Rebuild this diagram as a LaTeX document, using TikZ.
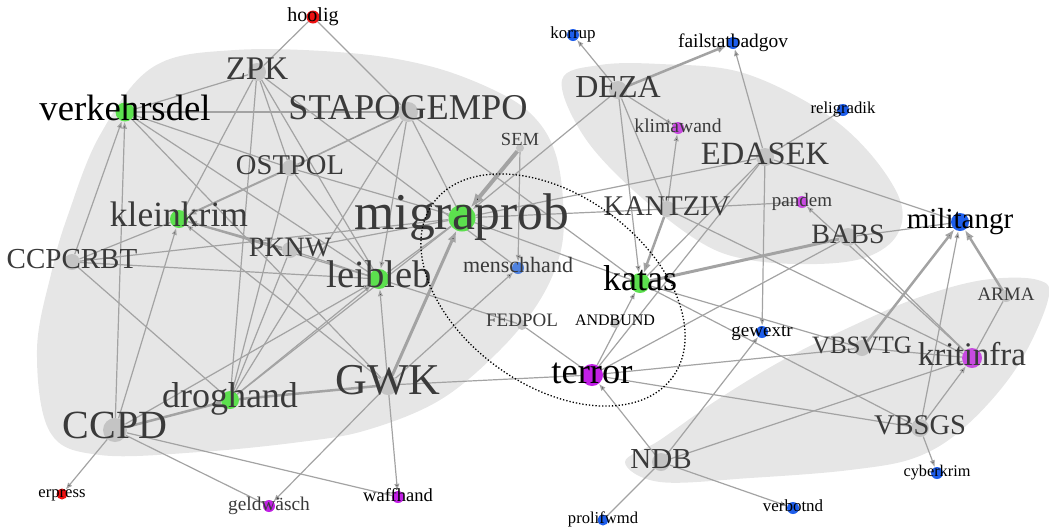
\documentclass[tikz,border=0pt]{standalone}
\usepackage{fontspec}
\setmainfont{Liberation Serif}
\usetikzlibrary{arrows.meta}
\definecolor{hullgray}{HTML}{E6E6E6}
\definecolor{edgegray}{HTML}{A3A3A3}
\definecolor{dotgray}{HTML}{C4C4C4}
\definecolor{dotgreen}{HTML}{5CE04E}
\definecolor{dotblue}{HTML}{1E5EEB}
\definecolor{dotlblue}{HTML}{4F82E0}
\definecolor{dotpurple}{HTML}{C84BE0}
\definecolor{dotmagenta}{HTML}{C21FE6}
\definecolor{dotred}{HTML}{EE1111}
\definecolor{txtgray}{HTML}{3A3A3A}
\pgfdeclarelayer{hulls}
\pgfdeclarelayer{edges}
\pgfsetlayers{hulls,edges,main}
\newcommand\fsz[1]{\fontsize{#1}{#1}\selectfont}
\tikzset{dot/.style = {circle, inner sep=0pt, minimum size=#1}}
\tikzset{lbl/.style = {anchor=base, yshift={-0.22*#1pt}, inner sep=0pt, text=txtgray, font=\fsz{#1}}}
\tikzset{lblk/.style = {lbl=#1, text=black}}
\tikzset{link/.style = {draw=edgegray, line width=#1}, link/.default=1.2pt}

\begin{document}
\begin{tikzpicture}[x=1pt, y=-1pt, >={Latex[length={4pt 2.5}, width={3pt 2}]}]
  \useasboundingbox (0,0) rectangle (1049,531);

  % actors
  \node [dot=13, fill=dotred] (hoolig) at (313,17) {};
  \node [lblk=20] (hoolig-t) at (hoolig) {hoolig};
  \node [dot=12, fill=dotblue] (korrup) at (573,35) {};
  \node [lblk=17] (korrup-t) at (korrup) {korrup};
  \node [dot=12, fill=dotblue] (failstatbadgov) at (733,43) {};
  \node [lblk=19.4] (failstatbadgov-t) at (failstatbadgov) {failstatbadgov};
  \node [dot=12, fill=dotblue] (religradik) at (843,110) {};
  \node [lblk=16.7] (religradik-t) at (religradik) {religradik};
  \node [dot=18, fill=dotgray] (ZPK) at (257,72) {};
  \node [lbl=33] (ZPK-t) at (ZPK) {ZPK};
  \node [dot=19, fill=dotgreen] (verkehrsdel) at (125,112) {};
  \node [lblk=36.7] (verkehrsdel-t) at (verkehrsdel) {verkehrsdel};
  \node [dot=20, fill=dotgray] (STAPOGEMPO) at (408,112) {};
  \node [lbl=36.3] (STAPOGEMPO-t) at (STAPOGEMPO) {STAPOGEMPO};
  \node [dot=18, fill=dotgray] (DEZA) at (618,90) {};
  \node [lbl=32] (DEZA-t) at (DEZA) {DEZA};
  \node [dot=12, fill=dotpurple] (klimawand) at (678,128) {};
  \node [lbl=19.6] (klimawand-t) at (klimawand) {klimawand};
  \node [dot=8, fill=dotgray] (SEM) at (520,148) {};
  \node [lbl=18.5] (SEM-t) at (520,141) {SEM};
  \node [dot=18, fill=dotgray] (EDASEK) at (765,157) {};
  \node [lbl=32.5] (EDASEK-t) at (EDASEK) {EDASEK};
  \node [dot=16, fill=dotgray] (OSTPOL) at (290,168) {};
  \node [lbl=28.6] (OSTPOL-t) at (OSTPOL) {OSTPOL};
  \node [dot=27, fill=dotgreen] (migraprob) at (462,218) {};
  \node [lbl=51.6] (migraprob-t) at (migraprob) {migraprob};
  \node [dot=16, fill=dotgray] (KANTZIV) at (667,209) {};
  \node [lbl=28.5] (KANTZIV-t) at (KANTZIV) {KANTZIV};
  \node [dot=12, fill=dotpurple] (pandem) at (802,202) {};
  \node [lbl=19] (pandem-t) at (pandem) {pandem};
  \node [dot=18, fill=dotblue] (militangr) at (960,222) {};
  \node [lblk=29] (militangr-t) at (militangr) {militangr};
  \node [dot=18, fill=dotgray] (BABS) at (848,237) {};
  \node [lbl=28] (BABS-t) at (BABS) {BABS};
  \node [dot=18, fill=dotgreen] (kleinkrim) at (179,219) {};
  \node [lbl=35.5] (kleinkrim-t) at (kleinkrim) {kleinkrim};
  \node [dot=16, fill=dotgray] (PKNW) at (290,250) {};
  \node [lbl=28] (PKNW-t) at (PKNW) {PKNW};
  \node [dot=16, fill=dotgray] (CCPCRBT) at (72,262) {};
  \node [lbl=29] (CCPCRBT-t) at (CCPCRBT) {CCPCRBT};
  \node [dot=12, fill=dotlblue] (menschhand) at (518,268) {};
  \node [lbl=22] (menschhand-t) at (menschhand) {menschhand};
  \node [dot=20, fill=dotgreen] (leibleb) at (379,279) {};
  \node [lbl=38.6] (leibleb-t) at (leibleb) {leibleb};
  \node [dot=20, fill=dotgreen] (katas) at (640,283) {};
  \node [lblk=36] (katas-t) at (katas) {katas};
  \node [dot=12, fill=dotgray] (ARMA) at (1006,296) {};
  \node [lbl=19] (ARMA-t) at (ARMA) {ARMA};
  \node [dot=10, fill=dotgray] (FEDPOL) at (522,325) {};
  \node [lbl=19] (FEDPOL-t) at (522,322) {FEDPOL};
  \node [dot=10, fill=dotgray] (ANDBUND) at (615,323) {};
  \node [lblk=16] (ANDBUND-t) at (615,322) {ANDBUND};
  \node [dot=12, fill=dotblue] (gewextr) at (762,332) {};
  \node [lblk=19] (gewextr-t) at (gewextr) {gewextr};
  \node [dot=16, fill=dotgray] (VBSVTG) at (862,348) {};
  \node [lbl=25] (VBSVTG-t) at (VBSVTG) {VBSVTG};
  \node [dot=20, fill=dotpurple] (kritinfra) at (972,358) {};
  \node [lbl=33] (kritinfra-t) at (kritinfra) {kritinfra};
  \node [dot=20, fill=dotgray] (GWK) at (388,385) {};
  \node [lbl=44] (GWK-t) at (GWK) {GWK};
  \node [dot=22, fill=dotmagenta] (terror) at (592,375) {};
  \node [lblk=36.5] (terror-t) at (terror) {terror};
  \node [dot=18, fill=dotgreen] (droghand) at (230,400) {};
  \node [lbl=36] (droghand-t) at (droghand) {droghand};
  \node [dot=24, fill=dotgray] (CCPD) at (115,430) {};
  \node [lbl=40] (CCPD-t) at (CCPD) {CCPD};
  \node [dot=18, fill=dotgray] (VBSGS) at (920,428) {};
  \node [lbl=28.5] (VBSGS-t) at (VBSGS) {VBSGS};
  \node [dot=18, fill=dotgray] (NDB) at (661,462) {};
  \node [lbl=29] (NDB-t) at (NDB) {NDB};
  \node [dot=12, fill=dotblue] (cyberkrim) at (937,473) {};
  \node [lblk=16.3] (cyberkrim-t) at (cyberkrim) {cyberkrim};
  \node [dot=11, fill=dotred] (erpress) at (62,494) {};
  \node [lblk=16.6] (erpress-t) at (erpress) {erpress};
  \node [dot=12, fill=dotmagenta] (geldwasch) at (269,506) {};
  \node [lbl=19.4] (geldwasch-t) at (geldwasch) {geldwäsch};
  \node [dot=12, fill=dotmagenta] (waffhand) at (398,497) {};
  \node [lblk=18.5] (waffhand-t) at (waffhand) {waffhand};
  \node [dot=11, fill=dotblue] (prolifwmd) at (603,520) {};
  \node [lblk=16.6] (prolifwmd-t) at (prolifwmd) {prolifwmd};
  \node [dot=12, fill=dotblue] (verbotnd) at (793,508) {};
  \node [lblk=17] (verbotnd-t) at (verbotnd) {verbotnd};

  % groups
  \begin{pgfonlayer}{hulls}
    \fill[hullgray] plot[smooth cycle, tension=0.6] coordinates {(350,53) (433,67) (500,93) (535,118) (555,152) (563,200) (561,250) (540,300) (500,350) (440,400) (367,430) (300,442) (200,452) (100,455) (50,432) (37,350) (52,270) (68,215) (100,135) (153,67) (235,50)};
    \fill[hullgray] plot[smooth cycle, tension=0.6] coordinates {(562,80) (600,65) (660,64) (740,72) (817,108) (867,150) (900,200) (897,235) (867,257) (817,264) (750,260) (700,242) (633,190) (583,135)};
    \fill[hullgray] plot[smooth cycle, tension=0.6] coordinates {(625,462) (660,440) (717,400) (783,360) (850,327) (917,298) (983,280) (1038,280) (1048,300) (1017,367) (967,425) (917,457) (850,470) (750,478) (660,482)};
  \end{pgfonlayer}

  % links
  \begin{pgfonlayer}{edges}
    \path[link] (hoolig) edge (ZPK) edge (STAPOGEMPO);
    \path[link] (ZPK) edge (verkehrsdel) edge (kleinkrim) edge (droghand) edge (OSTPOL) edge (leibleb) edge (menschhand);
    \path[link] (verkehrsdel) edge (OSTPOL) edge (leibleb) edge (GWK);
    \path[link=1.6pt] (verkehrsdel) edge (STAPOGEMPO);
    \path[link=1.6pt] (STAPOGEMPO) edge (OSTPOL);
    \path[link] (CCPCRBT) edge (kleinkrim) edge (migraprob) edge (leibleb) edge (droghand);
    \path[link] (STAPOGEMPO) edge (migraprob) edge (katas) edge (droghand);
    \path[link] (OSTPOL) edge (droghand) edge (leibleb) edge (migraprob);
    \path[link] (PKNW) edge (leibleb) edge (droghand) edge (migraprob);
    \path[link] (kleinkrim) edge (leibleb);
    \path[link] (leibleb) edge (migraprob) edge (FEDPOL);
    \path[link] (droghand) edge (migraprob);
    \path[link] (CCPD) edge (geldwasch) edge (waffhand);
    \path[link] (GWK) edge (terror);
    \path[link] (FEDPOL) edge (terror);
    \path[link] (migraprob) edge (KANTZIV) edge (katas) edge (EDASEK);
    \path[link] (DEZA) edge (KANTZIV);
    \path[link] (KANTZIV) edge (pandem) edge (kritinfra);
    \path[link] (EDASEK) edge (religradik) edge (militangr) edge (katas) edge (terror);
    \path[link] (BABS) edge (militangr) edge (kritinfra);
    \path[link] (terror) edge (BABS) edge (VBSVTG) edge (VBSGS);
    \path[link] (katas) edge (VBSVTG) edge (VBSGS);
    \path[link] (VBSVTG) edge (kritinfra);
    \path[link] (ARMA) edge (kritinfra);
    \path[link] (NDB) edge (kritinfra) edge (prolifwmd);

    \path[link, ->] (CCPD) edge (verkehrsdel) edge (kleinkrim) edge (erpress) edge (leibleb);
    \path[link, ->] (CCPCRBT) edge (verkehrsdel);
    \path[link, ->] (GWK) edge (kleinkrim) edge (leibleb) edge (menschhand) edge (waffhand) edge (geldwasch);
    \path[link, ->] (SEM) edge (menschhand);
    \path[link, ->] (STAPOGEMPO) edge (leibleb);
    \path[link, ->] (droghand) edge (leibleb);
    \path[link, ->] (DEZA) edge (migraprob) edge (korrup) edge (klimawand) edge (katas);
    \path[link, ->] (KANTZIV) edge (klimawand);
    \path[link, ->] (EDASEK) edge (failstatbadgov) edge (gewextr);
    \path[link, ->] (terror) edge (katas);
    \path[link, ->] (NDB) edge (terror) edge (verbotnd) edge (gewextr);
    \path[link, ->] (VBSGS) edge (militangr) edge (kritinfra) edge (cyberkrim);
    \path[link, ->] (kritinfra) edge (pandem);

    \path[link=4pt, ->] (SEM) edge (migraprob);
    \path[link=3pt, ->] (GWK) edge (migraprob);
    \path[link=2pt, ->] (OSTPOL) edge (kleinkrim);
    \path[link=2pt, ->] (PKNW) edge (kleinkrim);
    \path[link=2.5pt, ->] (KANTZIV) edge (katas);
    \path[link=2.5pt, ->] (DEZA) edge (failstatbadgov);
    \path[link=2.5pt, ->] (VBSVTG) edge (militangr);
    \path[link=2.5pt, ->] (ARMA) edge (militangr);
    \path[link=2.5pt] (droghand) edge (GWK);
    \path[link=2.5pt] (CCPD) edge (droghand);
    \path[link=3pt] (katas) edge (BABS);
  \end{pgfonlayer}

  % focus
  \draw[dotted, line width=1.3pt, rotate around={-36:(553,290)}] (553,290) ellipse [x radius=148pt, y radius=95pt];
\end{tikzpicture}
\end{document}
